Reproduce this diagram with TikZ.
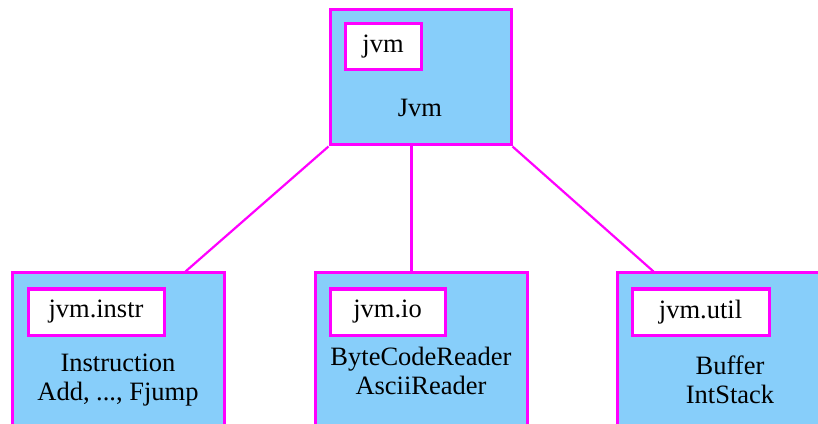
\documentclass[tikz,border=0pt]{standalone}
\usepackage{fontspec}
\setmainfont{Liberation Serif}
\usepackage{xcolor}
\usetikzlibrary{positioning, calc}
\definecolor{pkgblue}{RGB}{135,206,250}
\definecolor{pkgline}{RGB}{255,0,255}

\begin{document}
\begin{tikzpicture}[x=1pt, y=1pt,
    pkg/.style={rectangle, draw=pkgline, line width=3pt, fill=pkgblue,
                inner sep=0pt},
    tag/.style={rectangle, draw=pkgline, line width=3pt, fill=white,
                inner sep=0pt, minimum height=46pt,
                font=\fontsize{26.5}{30}\selectfont},
    txt/.style={align=center, inner sep=0pt, font=\fontsize{26.5}{29.5}\selectfont},
    link/.style={draw=pkgline, line width=2.2pt},
]
\useasboundingbox (0,0) rectangle (818,423);

%% Top package
\node[pkg, minimum width=181pt, minimum height=135pt] (jvm) at (420.5,345.5) {};
\node[tag, minimum width=76pt] (jvmtag) at (383,376) {jvm};
\node[txt] (jvmtxt) at (420,315) {Jvm};

%% Sub packages
\node[pkg, minimum width=212pt, minimum height=167pt] (instr) at (118,66.5) {};
\node[tag, minimum width=136pt] (instrtag) at (96,111) {jvm.instr};
\node[txt] (instrtxt) at (118,43) {Instruction\\Add, ..., Fjump};

\node[pkg, minimum width=212pt, minimum height=167pt] (io) at (421,66.5) {};
\node[tag, minimum width=115pt] (iotag) at (387.5,111) {jvm.io};
\node[txt] (iotxt) at (421,52) {ByteCodeReader\\AsciiReader};

\node[pkg, minimum width=213pt, minimum height=167pt] (util) at (723.5,66.5) {};
\node[tag, minimum width=137pt] (utiltag) at (700.5,111) {jvm.util};
\node[txt] (utiltxt) at (730,43) {Buffer\\IntStack};

%% Links
\coordinate (iotop) at ([xshift=98pt]io.north west);
\draw[link] (jvm.south west) -- ([xshift=175pt]instr.north west);
\draw[link] (jvm.south -| iotop) -- (iotop);
\draw[link] (jvm.south east) -- ([xshift=38pt]util.north west);

\end{tikzpicture}
\end{document}
